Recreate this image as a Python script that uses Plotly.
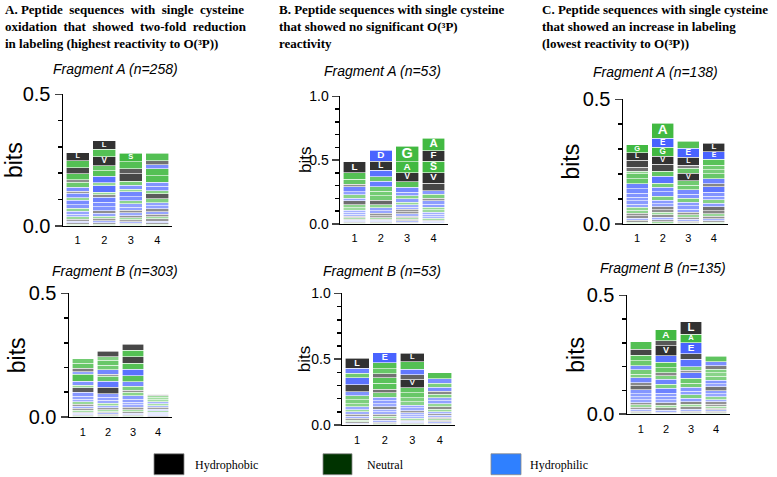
import plotly.graph_objects as go

W, H = 777, 477

positions = [1, 2, 3, 4]
position_labels = ["1", "2", "3", "4"]

# residue classes
hydrophobic = "LVIFMW"
neutral = "GSTAPCY"
hydrophilic = "DENQKRH"

# ---- A. highest reactivity, Fragment A (n=258): letters top -> bottom, bits
highA_letters = ["LSVGIAEFNTDQPKRYMHWC", "LSVGPQADTIENKFRYMHWC",
                 "SGLVAETDNPQKIRFYMHWC", "GLESADNTVPKQIRFYMHWC"]
highA_bits = [
    [.030, .028, .023, .022, .010, .018, .016, .008, .016, .010, .017, .014, .011, .011, .010, .009, .007, .007, .006, .005],
    [.032, .028, .034, .019, .022, .025, .010, .025, .010, .010, .019, .016, .015, .010, .011, .009, .008, .008, .006, .006],
    [.031, .028, .019, .027, .016, .015, .010, .018, .016, .012, .012, .012, .010, .010, .009, .008, .006, .006, .005, .005],
    [.028, .015, .016, .026, .025, .015, .016, .013, .019, .014, .012, .012, .010, .011, .009, .008, .008, .007, .006, .005],
]
# ---- A. Fragment B (n=303)
highB_letters = ["ASLEGDTVNKQPIRFYMHWC", "LSATEIGNVQDKPRFYMHWC",
                 "LSVPEGDAITNKQRFYMHWC", "LGSAETDVNPKQRI"]
highB_bits = [
    [.018, .020, .014, .012, .027, .016, .010, .020, .015, .012, .010, .010, .008, .009, .008, .007, .006, .006, .004, .004],
    [.023, .014, .020, .018, .019, .008, .020, .023, .027, .014, .013, .011, .010, .009, .008, .007, .006, .006, .005, .005],
    [.024, .027, .027, .024, .027, .023, .018, .016, .010, .013, .014, .013, .010, .010, .009, .008, .007, .006, .005, .004],
    [.006, .009, .008, .008, .008, .007, .007, .007, .006, .006, .005, .005, .005, .005],
]
# ---- B. no significant reactivity, Fragment A (n=53)
noneA_letters = ["LSAINEGDVTPQKRFYMHWC", "DLETNAGSVPKQIFYMHWC",
                 "GAVSDETNPKQILRFYMHWC", "AFSVLDGIENTPKQRYMHWC"]
noneA_bits = [
    [.085, .052, .040, .020, .038, .025, .025, .022, .032, .024, .018, .016, .016, .014, .012, .012, .010, .010, .008, .008],
    [.085, .072, .050, .038, .042, .036, .034, .034, .035, .024, .024, .022, .019, .014, .012, .010, .010, .008, .008],
    [.125, .085, .070, .045, .036, .028, .026, .026, .020, .018, .018, .018, .018, .016, .014, .013, .012, .010, .008, .004],
    [.098, .084, .090, .084, .058, .028, .030, .020, .026, .026, .020, .018, .018, .016, .014, .014, .011, .010, .004, .004],
]
# ---- B. Fragment B (n=53)
noneB_letters = ["LDGNVESATKPQIRFYMHWC", "EAGIPSLTDNKVQRFYMHWC",
                 "LPEFVAGSTDNIKQRYMHWC", "GESNLAKDTVPQIRFYMHWC"]
noneB_bits = [
    [.076, .038, .035, .050, .055, .030, .030, .030, .025, .020, .018, .018, .016, .016, .014, .012, .010, .008, .002, .003],
    [.076, .046, .038, .030, .043, .043, .030, .033, .025, .025, .020, .022, .018, .018, .016, .016, .014, .014, .012, .010],
    [.063, .056, .043, .035, .063, .040, .038, .030, .025, .022, .020, .016, .016, .014, .014, .012, .010, .010, .008, .009],
    [.047, .032, .030, .032, .022, .028, .022, .024, .020, .020, .018, .016, .014, .014, .012, .012, .010, .010, .008, .006],
]
# ---- C. lowest reactivity, Fragment A (n=138)
lowA_letters = ["GLVIYTADENKRQSPFMHWC", "AEGVLPNTQDSKRIFYMHWC",
                "AELIPVSGDNTKQRFYMHWC", "LEASGTDINKQPRVFYMHWC"]
lowA_bits = [
    [.033, .030, .027, .016, .012, .020, .020, .020, .018, .016, .014, .014, .012, .012, .012, .010, .010, .008, .008, .006],
    [.060, .036, .036, .032, .029, .021, .027, .017, .018, .018, .016, .014, .012, .012, .010, .010, .010, .010, .008, .008],
    [.027, .037, .031, .013, .020, .031, .018, .018, .018, .016, .016, .014, .014, .012, .010, .010, .008, .008, .006, .004],
    [.035, .030, .023, .018, .017, .020, .020, .012, .023, .016, .014, .014, .014, .016, .012, .010, .010, .008, .006, .006],
]
# ---- C. Fragment B (n=135)
lowB_letters = ["GLAPESTDIVNKQRFYMHWC", "ALVEPTISDGNKQRFYMHWC",
                "LAEVNTIDSGKQPRFYMHWC", "AELSTGDQVNKPRIFYMHWC"]
lowB_bits = [
    [.031, .026, .023, .020, .018, .018, .016, .020, .012, .018, .016, .014, .012, .012, .010, .010, .008, .008, .006, .006],
    [.046, .022, .042, .027, .024, .021, .012, .016, .021, .016, .021, .014, .014, .012, .012, .010, .010, .008, .004, .004],
    [.053, .035, .046, .024, .031, .016, .010, .024, .020, .018, .016, .014, .016, .014, .012, .010, .010, .008, .006, .006],
    [.023, .018, .014, .016, .014, .016, .016, .012, .016, .014, .012, .012, .010, .010, .008, .008, .007, .007, .006, .005],
]

section_titles = [
    ["A. Peptide\u00a0 sequences\u00a0 with\u00a0 single\u00a0 cysteine",
     "oxidation\u00a0 that\u00a0 showed\u00a0 two-fold\u00a0 reduction",
     "in labeling (highest reactivity to O(³P))"],
    ["B. Peptide sequences with single cysteine",
     "that showed no significant O(³P)",
     "reactivity"],
    ["C. Peptide sequences with single cysteine",
     "that showed an increase in labeling",
     "(lowest reactivity to O(³P))"],
]
fragment_titles = ["Fragment A (n=258)", "Fragment B (n=303)",
                   "Fragment A (n=53)", "Fragment B (n=53)",
                   "Fragment A (n=138)", "Fragment B (n=135)"]
legend_labels = ["Hydrophobic", "Neutral", "Hydrophilic"]

# ---------------- styling / layout (pixel geometry) ----------------
LETTER_COLORS = {"hydrophobic": "#000000", "neutral": "#13a813", "hydrophilic": "#1c3dff"}
LEGEND_COLORS = ["#000000", "#003300", "#2f80ff"]

# observed vertical mapping of the captured page: screen_y = OFF + SCALE * page_y
OFF, SCALE = 9.3, 0.958


def ypaper(screen_y):
    """paper fraction that lands at the wanted screen pixel row"""
    return 1 - ((screen_y - OFF) / SCALE) / H


panel_data = [(highA_letters, highA_bits), (highB_letters, highB_bits),
              (noneA_letters, noneA_bits), (noneB_letters, noneB_bits),
              (lowA_letters, lowA_bits), (lowB_letters, lowB_bits)]

geom = [
    dict(x0=63, x1=172, yb=225, yt=93, ymax=0.5, tfs=20, bfs=23, bx=14, tx=115, ty=68),
    dict(x0=69, x1=172, yb=417, yt=293, ymax=0.5, tfs=20, bfs=23, bx=17, tx=115, ty=270),
    dict(x0=340, x1=448, yb=223, yt=95, ymax=1.0, tfs=14, bfs=17, bx=305, tx=382, ty=70),
    dict(x0=342, x1=455, yb=425, yt=293, ymax=1.0, tfs=14, bfs=17, bx=304, tx=382, ty=270),
    dict(x0=623, x1=728, yb=223, yt=98, ymax=0.5, tfs=20, bfs=23, bx=571, tx=655, ty=71),
    dict(x0=627, x1=730, yb=414, yt=295, ymax=0.5, tfs=20, bfs=23, bx=576, tx=663, ty=267),
]


def color_of(letter):
    if letter in hydrophobic:
        return LETTER_COLORS["hydrophobic"]
    if letter in neutral:
        return LETTER_COLORS["neutral"]
    return LETTER_COLORS["hydrophilic"]


fig = go.Figure()
layout_axes = {}
annotations = []

for p, ((letters, bits), g) in enumerate(zip(panel_data, geom)):
    idx = "" if p == 0 else str(p + 1)
    xa, ya = "x" + idx, "y" + idx
    px_per_bit = (g["yb"] - g["yt"]) / g["ymax"]
    nlev = max(len(s) for s in letters)
    lx, ly, lt, ls = [], [], [], []
    base = [0.0, 0.0, 0.0, 0.0]
    for k in range(nlev):
        ys, cols, ops = [], [], []
        for c in range(4):
            col_letters = letters[c][::-1]
            col_bits = bits[c][::-1]
            if k < len(col_letters):
                h = col_bits[k]
                L = col_letters[k]
            else:
                h, L = 0.0, ""
            hp = h * px_per_bit
            ys.append(h)
            cols.append(color_of(L) if L else "#ffffff")
            ops.append(0.8 if hp >= 7.5 else min(0.72, 0.22 + hp / 12.0))
            if L and hp >= 7.5:
                lx.append(positions[c])
                ly.append(base[c] + h / 2)
                lt.append(L)
                ls.append(min(hp / 1.1, 22))
            base[c] += h
        fig.add_trace(go.Bar(
            x=positions, y=ys, xaxis=xa, yaxis=ya, width=0.86,
            marker=dict(color=cols, opacity=ops, line=dict(color="white", width=0.6)),
            hoverinfo="skip", showlegend=False,
        ))
    fig.add_trace(go.Scatter(
        x=lx, y=ly, text=lt, mode="text", xaxis=xa, yaxis=ya,
        textposition="middle center",
        textfont=dict(color="white", size=ls, family="Liberation Sans", weight="bold"),
        hoverinfo="skip", showlegend=False))
    layout_axes["xaxis" + idx] = dict(
        domain=[g["x0"] / W, g["x1"] / W], range=[0.45, 4.55], anchor=ya,
        tickvals=positions, ticktext=position_labels, ticks="outside", ticklen=4,
        tickcolor="rgba(0,0,0,0)",
        tickfont=dict(size=11, color="black", family="Liberation Sans"),
        showline=True, linecolor="black", linewidth=1.5, showgrid=False, zeroline=False,
        fixedrange=True)
    tv = [0, 0.5] if g["ymax"] == 0.5 else [0, 0.5, 1.0]
    layout_axes["yaxis" + idx] = dict(
        domain=[ypaper(g["yb"]), ypaper(g["yt"])], range=[0, g["ymax"]], anchor=xa,
        tickvals=tv, tickformat=".1f", ticks="outside", ticklen=7, tickwidth=1.5,
        tickfont=dict(size=g["tfs"], color="black", family="Liberation Sans"),
        minor=dict(dtick=0.1, ticks="outside", ticklen=4, tickcolor="black", showgrid=False),
        showline=True, linecolor="black", linewidth=1.5, showgrid=False, zeroline=False,
        fixedrange=True)
    annotations.append(dict(
        text="bits", textangle=-90, x=g["bx"] / W, y=ypaper((g["yb"] + g["yt"]) / 2),
        xref="paper", yref="paper", showarrow=False, xanchor="center", yanchor="middle",
        font=dict(size=g["bfs"], color="black", family="Liberation Sans")))
    annotations.append(dict(
        text="<i>" + fragment_titles[p] + "</i>", x=g["tx"] / W, y=ypaper(g["ty"]),
        xref="paper", yref="paper", showarrow=False, xanchor="center", yanchor="middle",
        font=dict(size=14, color="black", family="Liberation Sans")))

# section headers
header_x = [3, 277, 540]
header_y = [8, 25, 42]
for s, lines in enumerate(section_titles):
    for j, line in enumerate(lines):
        annotations.append(dict(
            text="<b>" + line + "</b>", x=header_x[s] / W, y=ypaper(header_y[j]),
            xref="paper", yref="paper", showarrow=False, xanchor="left", yanchor="middle",
            font=dict(size=13, color="black", family="Liberation Serif")))

# legend
shapes = []
leg_sq = [(154, 184), (323, 352), (491, 521)]
leg_tx = [193, 365, 528]
for i, lab in enumerate(legend_labels):
    x0, x1 = leg_sq[i]
    shapes.append(dict(type="rect", xref="paper", yref="paper",
                       x0=x0 / W, x1=x1 / W, y0=ypaper(475), y1=ypaper(454),
                       fillcolor=LEGEND_COLORS[i], line=dict(color="#888888", width=0.8)))
    annotations.append(dict(
        text=lab, x=leg_tx[i] / W, y=ypaper(465), xref="paper", yref="paper",
        showarrow=False, xanchor="left", yanchor="middle",
        font=dict(size=12, color="black", family="Liberation Serif")))

fig.update_layout(
    width=W, height=H, margin=dict(l=0, r=0, t=0, b=0),
    paper_bgcolor="white", plot_bgcolor="white",
    barmode="stack", bargap=0.1,
    annotations=annotations, shapes=shapes, **layout_axes)

fig.write_html(
    "out.html",
    config={"displayModeBar": False, "staticPlot": True},
    post_script=("document.documentElement.style.margin='0';"
                 "document.documentElement.style.overflow='hidden';"
                 "document.body.style.margin='0';document.body.style.padding='0';"
                 "document.body.style.overflow='hidden';"
                 "var gd=document.getElementById('{plot_id}');"
                 "gd.style.position='fixed';gd.style.left='0px';gd.style.top='0px';"))
